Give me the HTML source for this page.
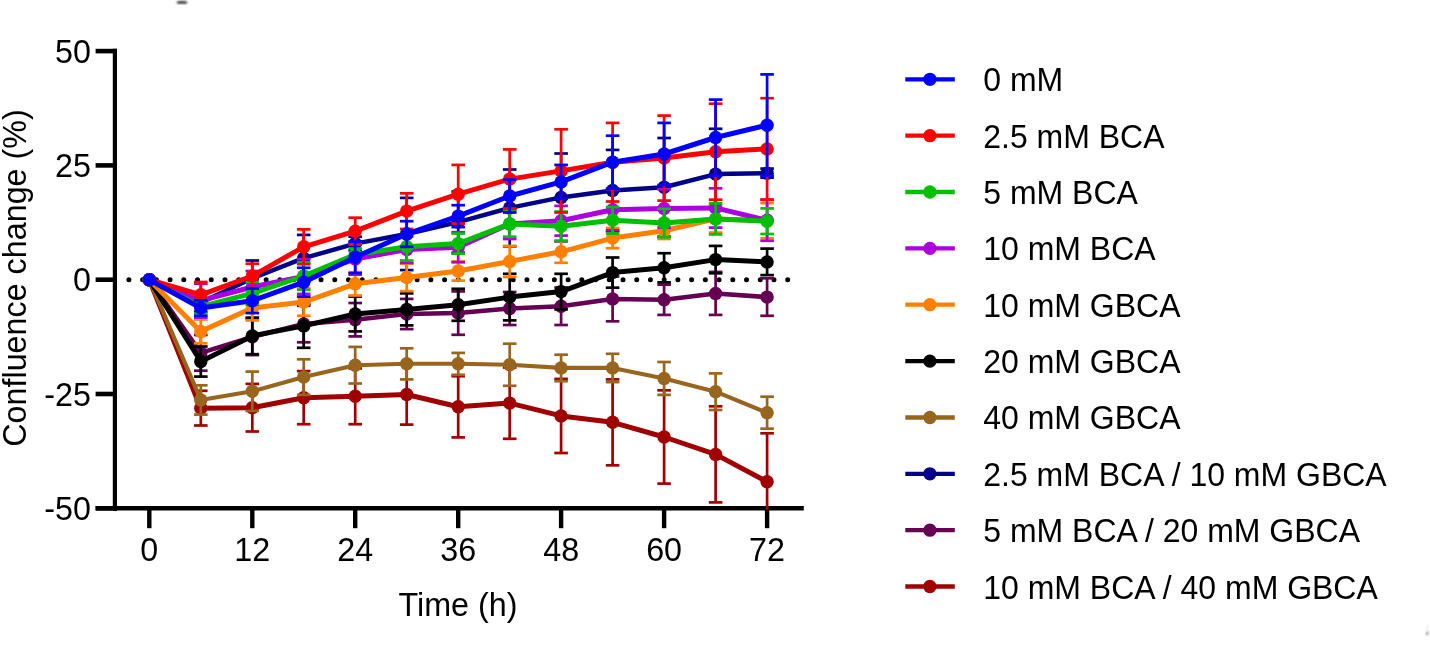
<!DOCTYPE html>
<html><head><meta charset="utf-8"><style>
html,body{margin:0;padding:0;background:#fff;}
body{width:1430px;height:666px;overflow:hidden;position:relative;}
svg{position:absolute;left:0;top:0;will-change:transform;}
text{font-family:"Liberation Sans",sans-serif;font-size:32.3px;fill:#000;}
.lg{font-size:32px;}
</style></head><body>
<svg width="1430" height="666" viewBox="0 0 1430 666">
<defs><filter id="bl" x="-50%" y="-50%" width="200%" height="200%"><feGaussianBlur stdDeviation="1.0"/></filter></defs>
<ellipse cx="182" cy="2.4" rx="5.4" ry="1.2" fill="#000" filter="url(#bl)"/>
<ellipse cx="1427.2" cy="628.5" rx="0.6" ry="4.5" fill="#e4e4e4" filter="url(#bl)"/><ellipse cx="1427.2" cy="633.4" rx="1.1" ry="1.7" fill="#777" filter="url(#bl)"/>
<line x1="114.9" y1="48.8" x2="114.9" y2="510.8" stroke="#000" stroke-width="4.2"/>
<line x1="95.6" y1="51.1" x2="117" y2="51.1" stroke="#000" stroke-width="4.6"/>
<line x1="95.6" y1="165.4" x2="117" y2="165.4" stroke="#000" stroke-width="4.6"/>
<line x1="95.6" y1="279.7" x2="117" y2="279.7" stroke="#000" stroke-width="4.6"/>
<line x1="95.6" y1="394.0" x2="117" y2="394.0" stroke="#000" stroke-width="4.6"/>
<line x1="95.6" y1="508.3" x2="117" y2="508.3" stroke="#000" stroke-width="4.6"/>
<line x1="95.6" y1="508.3" x2="803.8" y2="508.3" stroke="#000" stroke-width="4.6"/>
<line x1="149.3" y1="506.5" x2="149.3" y2="528.2" stroke="#000" stroke-width="4.4"/>
<line x1="252.3" y1="506.5" x2="252.3" y2="528.2" stroke="#000" stroke-width="4.4"/>
<line x1="355.2" y1="506.5" x2="355.2" y2="528.2" stroke="#000" stroke-width="4.4"/>
<line x1="458.2" y1="506.5" x2="458.2" y2="528.2" stroke="#000" stroke-width="4.4"/>
<line x1="561.1" y1="506.5" x2="561.1" y2="528.2" stroke="#000" stroke-width="4.4"/>
<line x1="664.1" y1="506.5" x2="664.1" y2="528.2" stroke="#000" stroke-width="4.4"/>
<line x1="767.1" y1="506.5" x2="767.1" y2="528.2" stroke="#000" stroke-width="4.4"/>
<line x1="128.9" y1="279.7" x2="788.5" y2="279.7" stroke="#000" stroke-width="5" stroke-linecap="round" stroke-dasharray="0 13.725"/>
<g stroke="#A00000" stroke-width="2.7" fill="none"><line x1="200.8" y1="390.8" x2="200.8" y2="425.5"/><line x1="194.0" y1="390.8" x2="207.6" y2="390.8"/><line x1="194.0" y1="425.5" x2="207.6" y2="425.5"/><line x1="252.3" y1="383.9" x2="252.3" y2="431.5"/><line x1="245.5" y1="383.9" x2="259.1" y2="383.9"/><line x1="245.5" y1="431.5" x2="259.1" y2="431.5"/><line x1="303.7" y1="371.1" x2="303.7" y2="424.2"/><line x1="296.9" y1="371.1" x2="310.5" y2="371.1"/><line x1="296.9" y1="424.2" x2="310.5" y2="424.2"/><line x1="355.2" y1="368.4" x2="355.2" y2="424.2"/><line x1="348.4" y1="368.4" x2="362.0" y2="368.4"/><line x1="348.4" y1="424.2" x2="362.0" y2="424.2"/><line x1="406.7" y1="364.3" x2="406.7" y2="424.6"/><line x1="399.9" y1="364.3" x2="413.5" y2="364.3"/><line x1="399.9" y1="424.6" x2="413.5" y2="424.6"/><line x1="458.2" y1="376.2" x2="458.2" y2="437.4"/><line x1="451.4" y1="376.2" x2="465.0" y2="376.2"/><line x1="451.4" y1="437.4" x2="465.0" y2="437.4"/><line x1="509.7" y1="367.5" x2="509.7" y2="438.8"/><line x1="502.9" y1="367.5" x2="516.5" y2="367.5"/><line x1="502.9" y1="438.8" x2="516.5" y2="438.8"/><line x1="561.1" y1="378.9" x2="561.1" y2="453.0"/><line x1="554.3" y1="378.9" x2="567.9" y2="378.9"/><line x1="554.3" y1="453.0" x2="567.9" y2="453.0"/><line x1="612.6" y1="379.4" x2="612.6" y2="465.3"/><line x1="605.8" y1="379.4" x2="619.4" y2="379.4"/><line x1="605.8" y1="465.3" x2="619.4" y2="465.3"/><line x1="664.1" y1="390.3" x2="664.1" y2="483.6"/><line x1="657.3" y1="390.3" x2="670.9" y2="390.3"/><line x1="657.3" y1="483.6" x2="670.9" y2="483.6"/><line x1="715.6" y1="406.3" x2="715.6" y2="502.4"/><line x1="708.8" y1="406.3" x2="722.4" y2="406.3"/><line x1="708.8" y1="502.4" x2="722.4" y2="502.4"/><line x1="767.1" y1="433.3" x2="767.1" y2="509.7"/><line x1="760.3" y1="433.3" x2="773.9" y2="433.3"/></g>
<polyline points="149.3,279.7 200.8,408.2 252.3,407.7 303.7,397.7 355.2,396.3 406.7,394.5 458.2,406.8 509.7,403.1 561.1,415.9 612.6,422.3 664.1,437.0 715.6,454.4 767.1,481.8" fill="none" stroke="#A00000" stroke-width="5" stroke-linejoin="round"/>
<g fill="#A00000"><circle cx="149.3" cy="279.7" r="6.7"/><circle cx="200.8" cy="408.2" r="6.7"/><circle cx="252.3" cy="407.7" r="6.7"/><circle cx="303.7" cy="397.7" r="6.7"/><circle cx="355.2" cy="396.3" r="6.7"/><circle cx="406.7" cy="394.5" r="6.7"/><circle cx="458.2" cy="406.8" r="6.7"/><circle cx="509.7" cy="403.1" r="6.7"/><circle cx="561.1" cy="415.9" r="6.7"/><circle cx="612.6" cy="422.3" r="6.7"/><circle cx="664.1" cy="437.0" r="6.7"/><circle cx="715.6" cy="454.4" r="6.7"/><circle cx="767.1" cy="481.8" r="6.7"/></g>
<g stroke="#650052" stroke-width="2.7" fill="none"><line x1="200.8" y1="335.0" x2="200.8" y2="370.7"/><line x1="194.0" y1="335.0" x2="207.6" y2="335.0"/><line x1="194.0" y1="370.7" x2="207.6" y2="370.7"/><line x1="252.3" y1="318.6" x2="252.3" y2="355.1"/><line x1="245.5" y1="318.6" x2="259.1" y2="318.6"/><line x1="245.5" y1="355.1" x2="259.1" y2="355.1"/><line x1="303.7" y1="305.8" x2="303.7" y2="342.3"/><line x1="296.9" y1="305.8" x2="310.5" y2="305.8"/><line x1="296.9" y1="342.3" x2="310.5" y2="342.3"/><line x1="355.2" y1="303.0" x2="355.2" y2="336.4"/><line x1="348.4" y1="303.0" x2="362.0" y2="303.0"/><line x1="348.4" y1="336.4" x2="362.0" y2="336.4"/><line x1="406.7" y1="298.9" x2="406.7" y2="329.1"/><line x1="399.9" y1="298.9" x2="413.5" y2="298.9"/><line x1="399.9" y1="329.1" x2="413.5" y2="329.1"/><line x1="458.2" y1="291.4" x2="458.2" y2="334.8"/><line x1="451.4" y1="291.4" x2="465.0" y2="291.4"/><line x1="451.4" y1="334.8" x2="465.0" y2="334.8"/><line x1="509.7" y1="292.0" x2="509.7" y2="325.0"/><line x1="502.9" y1="292.0" x2="516.5" y2="292.0"/><line x1="502.9" y1="325.0" x2="516.5" y2="325.0"/><line x1="561.1" y1="287.5" x2="561.1" y2="325.0"/><line x1="554.3" y1="287.5" x2="567.9" y2="287.5"/><line x1="554.3" y1="325.0" x2="567.9" y2="325.0"/><line x1="612.6" y1="276.5" x2="612.6" y2="321.3"/><line x1="605.8" y1="276.5" x2="619.4" y2="276.5"/><line x1="605.8" y1="321.3" x2="619.4" y2="321.3"/><line x1="664.1" y1="284.7" x2="664.1" y2="314.9"/><line x1="657.3" y1="284.7" x2="670.9" y2="284.7"/><line x1="657.3" y1="314.9" x2="670.9" y2="314.9"/><line x1="715.6" y1="271.9" x2="715.6" y2="314.9"/><line x1="708.8" y1="271.9" x2="722.4" y2="271.9"/><line x1="708.8" y1="314.9" x2="722.4" y2="314.9"/><line x1="767.1" y1="278.3" x2="767.1" y2="315.8"/><line x1="760.3" y1="278.3" x2="773.9" y2="278.3"/><line x1="760.3" y1="315.8" x2="773.9" y2="315.8"/></g>
<polyline points="149.3,279.7 200.8,352.9 252.3,336.8 303.7,324.0 355.2,319.7 406.7,314.0 458.2,313.1 509.7,308.5 561.1,306.2 612.6,298.9 664.1,299.8 715.6,293.4 767.1,297.1" fill="none" stroke="#650052" stroke-width="4.5" stroke-linejoin="round"/>
<g fill="#650052"><circle cx="149.3" cy="279.7" r="6.7"/><circle cx="200.8" cy="352.9" r="6.7"/><circle cx="252.3" cy="336.8" r="6.7"/><circle cx="303.7" cy="324.0" r="6.7"/><circle cx="355.2" cy="319.7" r="6.7"/><circle cx="406.7" cy="314.0" r="6.7"/><circle cx="458.2" cy="313.1" r="6.7"/><circle cx="509.7" cy="308.5" r="6.7"/><circle cx="561.1" cy="306.2" r="6.7"/><circle cx="612.6" cy="298.9" r="6.7"/><circle cx="664.1" cy="299.8" r="6.7"/><circle cx="715.6" cy="293.4" r="6.7"/><circle cx="767.1" cy="297.1" r="6.7"/></g>
<g stroke="#000088" stroke-width="2.7" fill="none"><line x1="200.8" y1="293.4" x2="200.8" y2="311.7"/><line x1="194.0" y1="293.4" x2="207.6" y2="293.4"/><line x1="194.0" y1="311.7" x2="207.6" y2="311.7"/><line x1="252.3" y1="260.5" x2="252.3" y2="296.2"/><line x1="245.5" y1="260.5" x2="259.1" y2="260.5"/><line x1="245.5" y1="296.2" x2="259.1" y2="296.2"/><line x1="303.7" y1="234.9" x2="303.7" y2="281.5"/><line x1="296.9" y1="234.9" x2="310.5" y2="234.9"/><line x1="296.9" y1="281.5" x2="310.5" y2="281.5"/><line x1="355.2" y1="236.7" x2="355.2" y2="250.4"/><line x1="348.4" y1="236.7" x2="362.0" y2="236.7"/><line x1="348.4" y1="250.4" x2="362.0" y2="250.4"/><line x1="406.7" y1="197.9" x2="406.7" y2="270.1"/><line x1="399.9" y1="197.9" x2="413.5" y2="197.9"/><line x1="399.9" y1="270.1" x2="413.5" y2="270.1"/><line x1="458.2" y1="191.5" x2="458.2" y2="252.7"/><line x1="451.4" y1="191.5" x2="465.0" y2="191.5"/><line x1="451.4" y1="252.7" x2="465.0" y2="252.7"/><line x1="509.7" y1="169.5" x2="509.7" y2="246.3"/><line x1="502.9" y1="169.5" x2="516.5" y2="169.5"/><line x1="502.9" y1="246.3" x2="516.5" y2="246.3"/><line x1="561.1" y1="153.5" x2="561.1" y2="241.3"/><line x1="554.3" y1="153.5" x2="567.9" y2="153.5"/><line x1="554.3" y1="241.3" x2="567.9" y2="241.3"/><line x1="612.6" y1="149.9" x2="612.6" y2="231.2"/><line x1="605.8" y1="149.9" x2="619.4" y2="149.9"/><line x1="605.8" y1="231.2" x2="619.4" y2="231.2"/><line x1="664.1" y1="138.0" x2="664.1" y2="236.7"/><line x1="657.3" y1="138.0" x2="670.9" y2="138.0"/><line x1="657.3" y1="236.7" x2="670.9" y2="236.7"/><line x1="715.6" y1="128.8" x2="715.6" y2="219.3"/><line x1="708.8" y1="128.8" x2="722.4" y2="128.8"/><line x1="708.8" y1="219.3" x2="722.4" y2="219.3"/><line x1="767.1" y1="168.6" x2="767.1" y2="177.7"/><line x1="760.3" y1="168.6" x2="773.9" y2="168.6"/><line x1="760.3" y1="177.7" x2="773.9" y2="177.7"/></g>
<polyline points="149.3,279.7 200.8,302.6 252.3,278.3 303.7,258.2 355.2,243.6 406.7,234.0 458.2,222.1 509.7,207.9 561.1,197.4 612.6,190.5 664.1,187.3 715.6,174.1 767.1,173.2" fill="none" stroke="#000088" stroke-width="4.5" stroke-linejoin="round"/>
<g fill="#000088"><circle cx="149.3" cy="279.7" r="6.7"/><circle cx="200.8" cy="302.6" r="6.7"/><circle cx="252.3" cy="278.3" r="6.7"/><circle cx="303.7" cy="258.2" r="6.7"/><circle cx="355.2" cy="243.6" r="6.7"/><circle cx="406.7" cy="234.0" r="6.7"/><circle cx="458.2" cy="222.1" r="6.7"/><circle cx="509.7" cy="207.9" r="6.7"/><circle cx="561.1" cy="197.4" r="6.7"/><circle cx="612.6" cy="190.5" r="6.7"/><circle cx="664.1" cy="187.3" r="6.7"/><circle cx="715.6" cy="174.1" r="6.7"/><circle cx="767.1" cy="173.2" r="6.7"/></g>
<g stroke="#98651F" stroke-width="2.7" fill="none"><line x1="200.8" y1="385.3" x2="200.8" y2="414.6"/><line x1="194.0" y1="385.3" x2="207.6" y2="385.3"/><line x1="194.0" y1="414.6" x2="207.6" y2="414.6"/><line x1="252.3" y1="371.6" x2="252.3" y2="410.9"/><line x1="245.5" y1="371.6" x2="259.1" y2="371.6"/><line x1="245.5" y1="410.9" x2="259.1" y2="410.9"/><line x1="303.7" y1="359.3" x2="303.7" y2="394.9"/><line x1="296.9" y1="359.3" x2="310.5" y2="359.3"/><line x1="296.9" y1="394.9" x2="310.5" y2="394.9"/><line x1="355.2" y1="346.9" x2="355.2" y2="383.5"/><line x1="348.4" y1="346.9" x2="362.0" y2="346.9"/><line x1="348.4" y1="383.5" x2="362.0" y2="383.5"/><line x1="406.7" y1="348.3" x2="406.7" y2="379.4"/><line x1="399.9" y1="348.3" x2="413.5" y2="348.3"/><line x1="399.9" y1="379.4" x2="413.5" y2="379.4"/><line x1="458.2" y1="352.9" x2="458.2" y2="374.8"/><line x1="451.4" y1="352.9" x2="465.0" y2="352.9"/><line x1="451.4" y1="374.8" x2="465.0" y2="374.8"/><line x1="509.7" y1="343.7" x2="509.7" y2="385.8"/><line x1="502.9" y1="343.7" x2="516.5" y2="343.7"/><line x1="502.9" y1="385.8" x2="516.5" y2="385.8"/><line x1="561.1" y1="354.7" x2="561.1" y2="381.2"/><line x1="554.3" y1="354.7" x2="567.9" y2="354.7"/><line x1="554.3" y1="381.2" x2="567.9" y2="381.2"/><line x1="612.6" y1="353.8" x2="612.6" y2="382.1"/><line x1="605.8" y1="353.8" x2="619.4" y2="353.8"/><line x1="605.8" y1="382.1" x2="619.4" y2="382.1"/><line x1="664.1" y1="362.0" x2="664.1" y2="394.9"/><line x1="657.3" y1="362.0" x2="670.9" y2="362.0"/><line x1="657.3" y1="394.9" x2="670.9" y2="394.9"/><line x1="715.6" y1="373.4" x2="715.6" y2="410.0"/><line x1="708.8" y1="373.4" x2="722.4" y2="373.4"/><line x1="708.8" y1="410.0" x2="722.4" y2="410.0"/><line x1="767.1" y1="396.7" x2="767.1" y2="428.7"/><line x1="760.3" y1="396.7" x2="773.9" y2="396.7"/><line x1="760.3" y1="428.7" x2="773.9" y2="428.7"/></g>
<polyline points="149.3,279.7 200.8,399.9 252.3,391.3 303.7,377.1 355.2,365.2 406.7,363.8 458.2,363.8 509.7,364.7 561.1,367.9 612.6,367.9 664.1,378.5 715.6,391.7 767.1,412.7" fill="none" stroke="#98651F" stroke-width="4.1" stroke-linejoin="round"/>
<g fill="#98651F"><circle cx="149.3" cy="279.7" r="6.7"/><circle cx="200.8" cy="399.9" r="6.7"/><circle cx="252.3" cy="391.3" r="6.7"/><circle cx="303.7" cy="377.1" r="6.7"/><circle cx="355.2" cy="365.2" r="6.7"/><circle cx="406.7" cy="363.8" r="6.7"/><circle cx="458.2" cy="363.8" r="6.7"/><circle cx="509.7" cy="364.7" r="6.7"/><circle cx="561.1" cy="367.9" r="6.7"/><circle cx="612.6" cy="367.9" r="6.7"/><circle cx="664.1" cy="378.5" r="6.7"/><circle cx="715.6" cy="391.7" r="6.7"/><circle cx="767.1" cy="412.7" r="6.7"/></g>
<g stroke="#000000" stroke-width="2.7" fill="none"><line x1="200.8" y1="346.5" x2="200.8" y2="376.6"/><line x1="194.0" y1="346.5" x2="207.6" y2="346.5"/><line x1="194.0" y1="376.6" x2="207.6" y2="376.6"/><line x1="252.3" y1="317.6" x2="252.3" y2="354.2"/><line x1="245.5" y1="317.6" x2="259.1" y2="317.6"/><line x1="245.5" y1="354.2" x2="259.1" y2="354.2"/><line x1="303.7" y1="303.9" x2="303.7" y2="347.8"/><line x1="296.9" y1="303.9" x2="310.5" y2="303.9"/><line x1="296.9" y1="347.8" x2="310.5" y2="347.8"/><line x1="355.2" y1="296.6" x2="355.2" y2="331.4"/><line x1="348.4" y1="296.6" x2="362.0" y2="296.6"/><line x1="348.4" y1="331.4" x2="362.0" y2="331.4"/><line x1="406.7" y1="293.4" x2="406.7" y2="325.4"/><line x1="399.9" y1="293.4" x2="413.5" y2="293.4"/><line x1="399.9" y1="325.4" x2="413.5" y2="325.4"/><line x1="458.2" y1="288.8" x2="458.2" y2="320.8"/><line x1="451.4" y1="288.8" x2="465.0" y2="288.8"/><line x1="451.4" y1="320.8" x2="465.0" y2="320.8"/><line x1="509.7" y1="273.8" x2="509.7" y2="320.4"/><line x1="502.9" y1="273.8" x2="516.5" y2="273.8"/><line x1="502.9" y1="320.4" x2="516.5" y2="320.4"/><line x1="561.1" y1="273.8" x2="561.1" y2="309.4"/><line x1="554.3" y1="273.8" x2="567.9" y2="273.8"/><line x1="554.3" y1="309.4" x2="567.9" y2="309.4"/><line x1="612.6" y1="257.5" x2="612.6" y2="287.7"/><line x1="605.8" y1="257.5" x2="619.4" y2="257.5"/><line x1="605.8" y1="287.7" x2="619.4" y2="287.7"/><line x1="664.1" y1="253.2" x2="664.1" y2="282.4"/><line x1="657.3" y1="253.2" x2="670.9" y2="253.2"/><line x1="657.3" y1="282.4" x2="670.9" y2="282.4"/><line x1="715.6" y1="245.9" x2="715.6" y2="273.3"/><line x1="708.8" y1="245.9" x2="722.4" y2="245.9"/><line x1="708.8" y1="273.3" x2="722.4" y2="273.3"/><line x1="767.1" y1="248.6" x2="767.1" y2="275.1"/><line x1="760.3" y1="248.6" x2="773.9" y2="248.6"/><line x1="760.3" y1="275.1" x2="773.9" y2="275.1"/></g>
<polyline points="149.3,279.7 200.8,361.5 252.3,335.9 303.7,325.9 355.2,314.0 406.7,309.4 458.2,304.8 509.7,297.1 561.1,291.6 612.6,272.6 664.1,267.8 715.6,259.6 767.1,261.9" fill="none" stroke="#000000" stroke-width="5" stroke-linejoin="round"/>
<g fill="#000000"><circle cx="149.3" cy="279.7" r="6.7"/><circle cx="200.8" cy="361.5" r="6.7"/><circle cx="252.3" cy="335.9" r="6.7"/><circle cx="303.7" cy="325.9" r="6.7"/><circle cx="355.2" cy="314.0" r="6.7"/><circle cx="406.7" cy="309.4" r="6.7"/><circle cx="458.2" cy="304.8" r="6.7"/><circle cx="509.7" cy="297.1" r="6.7"/><circle cx="561.1" cy="291.6" r="6.7"/><circle cx="612.6" cy="272.6" r="6.7"/><circle cx="664.1" cy="267.8" r="6.7"/><circle cx="715.6" cy="259.6" r="6.7"/><circle cx="767.1" cy="261.9" r="6.7"/></g>
<g stroke="#FF8000" stroke-width="2.7" fill="none"><line x1="200.8" y1="319.5" x2="200.8" y2="343.3"/><line x1="194.0" y1="319.5" x2="207.6" y2="319.5"/><line x1="194.0" y1="343.3" x2="207.6" y2="343.3"/><line x1="252.3" y1="295.7" x2="252.3" y2="320.4"/><line x1="245.5" y1="295.7" x2="259.1" y2="295.7"/><line x1="245.5" y1="320.4" x2="259.1" y2="320.4"/><line x1="303.7" y1="288.4" x2="303.7" y2="315.8"/><line x1="296.9" y1="288.4" x2="310.5" y2="288.4"/><line x1="296.9" y1="315.8" x2="310.5" y2="315.8"/><line x1="355.2" y1="272.2" x2="355.2" y2="295.5"/><line x1="348.4" y1="272.2" x2="362.0" y2="272.2"/><line x1="348.4" y1="295.5" x2="362.0" y2="295.5"/><line x1="406.7" y1="263.7" x2="406.7" y2="291.1"/><line x1="399.9" y1="263.7" x2="413.5" y2="263.7"/><line x1="399.9" y1="291.1" x2="413.5" y2="291.1"/><line x1="458.2" y1="261.4" x2="458.2" y2="280.6"/><line x1="451.4" y1="261.4" x2="465.0" y2="261.4"/><line x1="451.4" y1="280.6" x2="465.0" y2="280.6"/><line x1="509.7" y1="245.9" x2="509.7" y2="277.0"/><line x1="502.9" y1="245.9" x2="516.5" y2="245.9"/><line x1="502.9" y1="277.0" x2="516.5" y2="277.0"/><line x1="561.1" y1="240.8" x2="561.1" y2="262.8"/><line x1="554.3" y1="240.8" x2="567.9" y2="240.8"/><line x1="554.3" y1="262.8" x2="567.9" y2="262.8"/><line x1="612.6" y1="228.0" x2="612.6" y2="248.2"/><line x1="605.8" y1="228.0" x2="619.4" y2="228.0"/><line x1="605.8" y1="248.2" x2="619.4" y2="248.2"/><line x1="664.1" y1="222.5" x2="664.1" y2="239.0"/><line x1="657.3" y1="222.5" x2="670.9" y2="222.5"/><line x1="657.3" y1="239.0" x2="670.9" y2="239.0"/><line x1="715.6" y1="205.2" x2="715.6" y2="232.6"/><line x1="708.8" y1="205.2" x2="722.4" y2="205.2"/><line x1="708.8" y1="232.6" x2="722.4" y2="232.6"/><line x1="767.1" y1="203.1" x2="767.1" y2="238.3"/><line x1="760.3" y1="203.1" x2="773.9" y2="203.1"/><line x1="760.3" y1="238.3" x2="773.9" y2="238.3"/></g>
<polyline points="149.3,279.7 200.8,331.4 252.3,308.0 303.7,302.1 355.2,283.8 406.7,277.4 458.2,271.0 509.7,261.4 561.1,251.8 612.6,238.1 664.1,230.8 715.6,218.9 767.1,220.7" fill="none" stroke="#FF8000" stroke-width="5" stroke-linejoin="round"/>
<g fill="#FF8000"><circle cx="149.3" cy="279.7" r="6.7"/><circle cx="200.8" cy="331.4" r="6.7"/><circle cx="252.3" cy="308.0" r="6.7"/><circle cx="303.7" cy="302.1" r="6.7"/><circle cx="355.2" cy="283.8" r="6.7"/><circle cx="406.7" cy="277.4" r="6.7"/><circle cx="458.2" cy="271.0" r="6.7"/><circle cx="509.7" cy="261.4" r="6.7"/><circle cx="561.1" cy="251.8" r="6.7"/><circle cx="612.6" cy="238.1" r="6.7"/><circle cx="664.1" cy="230.8" r="6.7"/><circle cx="715.6" cy="218.9" r="6.7"/><circle cx="767.1" cy="220.7" r="6.7"/></g>
<g stroke="#AC00E0" stroke-width="2.7" fill="none"><line x1="200.8" y1="283.8" x2="200.8" y2="317.6"/><line x1="194.0" y1="283.8" x2="207.6" y2="283.8"/><line x1="194.0" y1="317.6" x2="207.6" y2="317.6"/><line x1="252.3" y1="271.0" x2="252.3" y2="303.0"/><line x1="245.5" y1="271.0" x2="259.1" y2="271.0"/><line x1="245.5" y1="303.0" x2="259.1" y2="303.0"/><line x1="303.7" y1="259.1" x2="303.7" y2="293.9"/><line x1="296.9" y1="259.1" x2="310.5" y2="259.1"/><line x1="296.9" y1="293.9" x2="310.5" y2="293.9"/><line x1="355.2" y1="243.6" x2="355.2" y2="274.7"/><line x1="348.4" y1="243.6" x2="362.0" y2="243.6"/><line x1="348.4" y1="274.7" x2="362.0" y2="274.7"/><line x1="406.7" y1="236.3" x2="406.7" y2="262.8"/><line x1="399.9" y1="236.3" x2="413.5" y2="236.3"/><line x1="399.9" y1="262.8" x2="413.5" y2="262.8"/><line x1="458.2" y1="232.2" x2="458.2" y2="262.3"/><line x1="451.4" y1="232.2" x2="465.0" y2="232.2"/><line x1="451.4" y1="262.3" x2="465.0" y2="262.3"/><line x1="509.7" y1="208.8" x2="509.7" y2="239.0"/><line x1="502.9" y1="208.8" x2="516.5" y2="208.8"/><line x1="502.9" y1="239.0" x2="516.5" y2="239.0"/><line x1="561.1" y1="205.9" x2="561.1" y2="235.6"/><line x1="554.3" y1="205.9" x2="567.9" y2="205.9"/><line x1="554.3" y1="235.6" x2="567.9" y2="235.6"/><line x1="612.6" y1="189.2" x2="612.6" y2="230.3"/><line x1="605.8" y1="189.2" x2="619.4" y2="189.2"/><line x1="605.8" y1="230.3" x2="619.4" y2="230.3"/><line x1="664.1" y1="189.2" x2="664.1" y2="227.6"/><line x1="657.3" y1="189.2" x2="670.9" y2="189.2"/><line x1="657.3" y1="227.6" x2="670.9" y2="227.6"/><line x1="715.6" y1="188.3" x2="715.6" y2="227.6"/><line x1="708.8" y1="188.3" x2="722.4" y2="188.3"/><line x1="708.8" y1="227.6" x2="722.4" y2="227.6"/><line x1="767.1" y1="199.7" x2="767.1" y2="240.8"/><line x1="760.3" y1="199.7" x2="773.9" y2="199.7"/><line x1="760.3" y1="240.8" x2="773.9" y2="240.8"/></g>
<polyline points="149.3,279.7 200.8,300.7 252.3,287.0 303.7,276.5 355.2,259.1 406.7,249.5 458.2,247.2 509.7,223.9 561.1,220.7 612.6,209.7 664.1,208.4 715.6,207.9 767.1,220.3" fill="none" stroke="#AC00E0" stroke-width="5" stroke-linejoin="round"/>
<g fill="#AC00E0"><circle cx="149.3" cy="279.7" r="6.7"/><circle cx="200.8" cy="300.7" r="6.7"/><circle cx="252.3" cy="287.0" r="6.7"/><circle cx="303.7" cy="276.5" r="6.7"/><circle cx="355.2" cy="259.1" r="6.7"/><circle cx="406.7" cy="249.5" r="6.7"/><circle cx="458.2" cy="247.2" r="6.7"/><circle cx="509.7" cy="223.9" r="6.7"/><circle cx="561.1" cy="220.7" r="6.7"/><circle cx="612.6" cy="209.7" r="6.7"/><circle cx="664.1" cy="208.4" r="6.7"/><circle cx="715.6" cy="207.9" r="6.7"/><circle cx="767.1" cy="220.3" r="6.7"/></g>
<g stroke="#00BF00" stroke-width="2.7" fill="none"><line x1="200.8" y1="299.8" x2="200.8" y2="313.5"/><line x1="194.0" y1="299.8" x2="207.6" y2="299.8"/><line x1="194.0" y1="313.5" x2="207.6" y2="313.5"/><line x1="252.3" y1="282.0" x2="252.3" y2="304.8"/><line x1="245.5" y1="282.0" x2="259.1" y2="282.0"/><line x1="245.5" y1="304.8" x2="259.1" y2="304.8"/><line x1="303.7" y1="262.3" x2="303.7" y2="289.8"/><line x1="296.9" y1="262.3" x2="310.5" y2="262.3"/><line x1="296.9" y1="289.8" x2="310.5" y2="289.8"/><line x1="355.2" y1="248.6" x2="355.2" y2="260.5"/><line x1="348.4" y1="248.6" x2="362.0" y2="248.6"/><line x1="348.4" y1="260.5" x2="362.0" y2="260.5"/><line x1="406.7" y1="233.1" x2="406.7" y2="260.5"/><line x1="399.9" y1="233.1" x2="413.5" y2="233.1"/><line x1="399.9" y1="260.5" x2="413.5" y2="260.5"/><line x1="458.2" y1="233.5" x2="458.2" y2="253.6"/><line x1="451.4" y1="233.5" x2="465.0" y2="233.5"/><line x1="451.4" y1="253.6" x2="465.0" y2="253.6"/><line x1="509.7" y1="211.1" x2="509.7" y2="236.7"/><line x1="502.9" y1="211.1" x2="516.5" y2="211.1"/><line x1="502.9" y1="236.7" x2="516.5" y2="236.7"/><line x1="561.1" y1="211.6" x2="561.1" y2="240.8"/><line x1="554.3" y1="211.6" x2="567.9" y2="211.6"/><line x1="554.3" y1="240.8" x2="567.9" y2="240.8"/><line x1="612.6" y1="207.0" x2="612.6" y2="233.5"/><line x1="605.8" y1="207.0" x2="619.4" y2="207.0"/><line x1="605.8" y1="233.5" x2="619.4" y2="233.5"/><line x1="664.1" y1="208.8" x2="664.1" y2="237.2"/><line x1="657.3" y1="208.8" x2="670.9" y2="208.8"/><line x1="657.3" y1="237.2" x2="670.9" y2="237.2"/><line x1="715.6" y1="203.3" x2="715.6" y2="234.4"/><line x1="708.8" y1="203.3" x2="722.4" y2="203.3"/><line x1="708.8" y1="234.4" x2="722.4" y2="234.4"/><line x1="767.1" y1="208.4" x2="767.1" y2="234.0"/><line x1="760.3" y1="208.4" x2="773.9" y2="208.4"/><line x1="760.3" y1="234.0" x2="773.9" y2="234.0"/></g>
<polyline points="149.3,279.7 200.8,306.7 252.3,293.4 303.7,276.0 355.2,254.6 406.7,246.8 458.2,243.6 509.7,223.9 561.1,226.2 612.6,220.3 664.1,223.0 715.6,218.9 767.1,221.2" fill="none" stroke="#00BF00" stroke-width="5" stroke-linejoin="round"/>
<g fill="#00BF00"><circle cx="149.3" cy="279.7" r="6.7"/><circle cx="200.8" cy="306.7" r="6.7"/><circle cx="252.3" cy="293.4" r="6.7"/><circle cx="303.7" cy="276.0" r="6.7"/><circle cx="355.2" cy="254.6" r="6.7"/><circle cx="406.7" cy="246.8" r="6.7"/><circle cx="458.2" cy="243.6" r="6.7"/><circle cx="509.7" cy="223.9" r="6.7"/><circle cx="561.1" cy="226.2" r="6.7"/><circle cx="612.6" cy="220.3" r="6.7"/><circle cx="664.1" cy="223.0" r="6.7"/><circle cx="715.6" cy="218.9" r="6.7"/><circle cx="767.1" cy="221.2" r="6.7"/></g>
<g stroke="#FF0000" stroke-width="2.7" fill="none"><line x1="200.8" y1="282.0" x2="200.8" y2="307.6"/><line x1="194.0" y1="282.0" x2="207.6" y2="282.0"/><line x1="194.0" y1="307.6" x2="207.6" y2="307.6"/><line x1="252.3" y1="263.7" x2="252.3" y2="288.4"/><line x1="245.5" y1="263.7" x2="259.1" y2="263.7"/><line x1="245.5" y1="288.4" x2="259.1" y2="288.4"/><line x1="303.7" y1="229.4" x2="303.7" y2="264.2"/><line x1="296.9" y1="229.4" x2="310.5" y2="229.4"/><line x1="296.9" y1="264.2" x2="310.5" y2="264.2"/><line x1="355.2" y1="217.7" x2="355.2" y2="244.7"/><line x1="348.4" y1="217.7" x2="362.0" y2="217.7"/><line x1="348.4" y1="244.7" x2="362.0" y2="244.7"/><line x1="406.7" y1="193.3" x2="406.7" y2="229.0"/><line x1="399.9" y1="193.3" x2="413.5" y2="193.3"/><line x1="399.9" y1="229.0" x2="413.5" y2="229.0"/><line x1="458.2" y1="164.9" x2="458.2" y2="223.5"/><line x1="451.4" y1="164.9" x2="465.0" y2="164.9"/><line x1="451.4" y1="223.5" x2="465.0" y2="223.5"/><line x1="509.7" y1="149.4" x2="509.7" y2="208.8"/><line x1="502.9" y1="149.4" x2="516.5" y2="149.4"/><line x1="502.9" y1="208.8" x2="516.5" y2="208.8"/><line x1="561.1" y1="129.3" x2="561.1" y2="212.5"/><line x1="554.3" y1="129.3" x2="567.9" y2="129.3"/><line x1="554.3" y1="212.5" x2="567.9" y2="212.5"/><line x1="612.6" y1="122.9" x2="612.6" y2="201.5"/><line x1="605.8" y1="122.9" x2="619.4" y2="122.9"/><line x1="605.8" y1="201.5" x2="619.4" y2="201.5"/><line x1="664.1" y1="115.6" x2="664.1" y2="200.6"/><line x1="657.3" y1="115.6" x2="670.9" y2="115.6"/><line x1="657.3" y1="200.6" x2="670.9" y2="200.6"/><line x1="715.6" y1="103.7" x2="715.6" y2="199.7"/><line x1="708.8" y1="103.7" x2="722.4" y2="103.7"/><line x1="708.8" y1="199.7" x2="722.4" y2="199.7"/><line x1="767.1" y1="98.2" x2="767.1" y2="199.7"/><line x1="760.3" y1="98.2" x2="773.9" y2="98.2"/><line x1="760.3" y1="199.7" x2="773.9" y2="199.7"/></g>
<polyline points="149.3,279.7 200.8,294.8 252.3,276.0 303.7,246.8 355.2,231.2 406.7,211.1 458.2,194.2 509.7,179.1 561.1,170.9 612.6,162.2 664.1,158.1 715.6,151.7 767.1,148.9" fill="none" stroke="#FF0000" stroke-width="5.0" stroke-linejoin="round"/>
<g fill="#FF0000"><circle cx="149.3" cy="279.7" r="6.7"/><circle cx="200.8" cy="294.8" r="6.7"/><circle cx="252.3" cy="276.0" r="6.7"/><circle cx="303.7" cy="246.8" r="6.7"/><circle cx="355.2" cy="231.2" r="6.7"/><circle cx="406.7" cy="211.1" r="6.7"/><circle cx="458.2" cy="194.2" r="6.7"/><circle cx="509.7" cy="179.1" r="6.7"/><circle cx="561.1" cy="170.9" r="6.7"/><circle cx="612.6" cy="162.2" r="6.7"/><circle cx="664.1" cy="158.1" r="6.7"/><circle cx="715.6" cy="151.7" r="6.7"/><circle cx="767.1" cy="148.9" r="6.7"/></g>
<g stroke="#0000FF" stroke-width="2.7" fill="none"><line x1="200.8" y1="300.3" x2="200.8" y2="315.8"/><line x1="194.0" y1="300.3" x2="207.6" y2="300.3"/><line x1="194.0" y1="315.8" x2="207.6" y2="315.8"/><line x1="252.3" y1="288.4" x2="252.3" y2="313.1"/><line x1="245.5" y1="288.4" x2="259.1" y2="288.4"/><line x1="245.5" y1="313.1" x2="259.1" y2="313.1"/><line x1="303.7" y1="267.8" x2="303.7" y2="296.6"/><line x1="296.9" y1="267.8" x2="310.5" y2="267.8"/><line x1="296.9" y1="296.6" x2="310.5" y2="296.6"/><line x1="355.2" y1="241.5" x2="355.2" y2="273.1"/><line x1="348.4" y1="241.5" x2="362.0" y2="241.5"/><line x1="348.4" y1="273.1" x2="362.0" y2="273.1"/><line x1="406.7" y1="221.2" x2="406.7" y2="246.8"/><line x1="399.9" y1="221.2" x2="413.5" y2="221.2"/><line x1="399.9" y1="246.8" x2="413.5" y2="246.8"/><line x1="458.2" y1="205.2" x2="458.2" y2="227.1"/><line x1="451.4" y1="205.2" x2="465.0" y2="205.2"/><line x1="451.4" y1="227.1" x2="465.0" y2="227.1"/><line x1="509.7" y1="179.6" x2="509.7" y2="212.5"/><line x1="502.9" y1="179.6" x2="516.5" y2="179.6"/><line x1="502.9" y1="212.5" x2="516.5" y2="212.5"/><line x1="561.1" y1="164.9" x2="561.1" y2="198.8"/><line x1="554.3" y1="164.9" x2="567.9" y2="164.9"/><line x1="554.3" y1="198.8" x2="567.9" y2="198.8"/><line x1="612.6" y1="135.7" x2="612.6" y2="188.7"/><line x1="605.8" y1="135.7" x2="619.4" y2="135.7"/><line x1="605.8" y1="188.7" x2="619.4" y2="188.7"/><line x1="664.1" y1="122.9" x2="664.1" y2="185.1"/><line x1="657.3" y1="122.9" x2="670.9" y2="122.9"/><line x1="657.3" y1="185.1" x2="670.9" y2="185.1"/><line x1="715.6" y1="99.6" x2="715.6" y2="175.5"/><line x1="708.8" y1="99.6" x2="722.4" y2="99.6"/><line x1="708.8" y1="175.5" x2="722.4" y2="175.5"/><line x1="767.1" y1="74.4" x2="767.1" y2="175.9"/><line x1="760.3" y1="74.4" x2="773.9" y2="74.4"/><line x1="760.3" y1="175.9" x2="773.9" y2="175.9"/></g>
<polyline points="149.3,279.7 200.8,308.0 252.3,300.7 303.7,282.2 355.2,257.3 406.7,234.0 458.2,216.1 509.7,196.0 561.1,181.9 612.6,162.2 664.1,154.0 715.6,137.5 767.1,125.2" fill="none" stroke="#0000FF" stroke-width="5.0" stroke-linejoin="round"/>
<g fill="#0000FF"><circle cx="149.3" cy="279.7" r="6.7"/><circle cx="200.8" cy="308.0" r="6.7"/><circle cx="252.3" cy="300.7" r="6.7"/><circle cx="303.7" cy="282.2" r="6.7"/><circle cx="355.2" cy="257.3" r="6.7"/><circle cx="406.7" cy="234.0" r="6.7"/><circle cx="458.2" cy="216.1" r="6.7"/><circle cx="509.7" cy="196.0" r="6.7"/><circle cx="561.1" cy="181.9" r="6.7"/><circle cx="612.6" cy="162.2" r="6.7"/><circle cx="664.1" cy="154.0" r="6.7"/><circle cx="715.6" cy="137.5" r="6.7"/><circle cx="767.1" cy="125.2" r="6.7"/></g>
<text transform="translate(91,62.60) scale(1,1.04)" text-anchor="end">50</text>
<text transform="translate(91,176.90) scale(1,1.04)" text-anchor="end">25</text>
<text transform="translate(91,291.20) scale(1,1.04)" text-anchor="end">0</text>
<text transform="translate(91,405.50) scale(1,1.04)" text-anchor="end">-25</text>
<text transform="translate(91,519.80) scale(1,1.04)" text-anchor="end">-50</text>
<text transform="translate(149.30,561.3) scale(1,1.03)" text-anchor="middle">0</text>
<text transform="translate(252.26,561.3) scale(1,1.03)" text-anchor="middle">12</text>
<text transform="translate(355.22,561.3) scale(1,1.03)" text-anchor="middle">24</text>
<text transform="translate(458.18,561.3) scale(1,1.03)" text-anchor="middle">36</text>
<text transform="translate(561.14,561.3) scale(1,1.03)" text-anchor="middle">48</text>
<text transform="translate(664.10,561.3) scale(1,1.03)" text-anchor="middle">60</text>
<text transform="translate(767.06,561.3) scale(1,1.03)" text-anchor="middle">72</text>
<text x="458" y="615.6" text-anchor="middle">Time (h)</text>
<text transform="translate(25.5,278) rotate(-90)" text-anchor="middle">Confluence change (%)</text>
<line x1="905.3" y1="79.3" x2="954.8" y2="79.3" stroke="#0000FF" stroke-width="4.3"/>
<circle cx="929.9" cy="79.3" r="6.65" fill="#0000FF"/>
<text class="lg" transform="translate(983.2,91.30) scale(1,1.05)">0 mM</text>
<line x1="905.3" y1="135.7" x2="954.8" y2="135.7" stroke="#FF0000" stroke-width="4.3"/>
<circle cx="929.9" cy="135.7" r="6.65" fill="#FF0000"/>
<text class="lg" transform="translate(983.2,147.66) scale(1,1.05)">2.5 mM BCA</text>
<line x1="905.3" y1="192.0" x2="954.8" y2="192.0" stroke="#00BF00" stroke-width="4.3"/>
<circle cx="929.9" cy="192.0" r="6.65" fill="#00BF00"/>
<text class="lg" transform="translate(983.2,204.02) scale(1,1.05)">5 mM BCA</text>
<line x1="905.3" y1="248.4" x2="954.8" y2="248.4" stroke="#AC00E0" stroke-width="4.3"/>
<circle cx="929.9" cy="248.4" r="6.65" fill="#AC00E0"/>
<text class="lg" transform="translate(983.2,260.38) scale(1,1.05)">10 mM BCA</text>
<line x1="905.3" y1="304.7" x2="954.8" y2="304.7" stroke="#FF8000" stroke-width="4.3"/>
<circle cx="929.9" cy="304.7" r="6.65" fill="#FF8000"/>
<text class="lg" transform="translate(983.2,316.74) scale(1,1.05)">10 mM GBCA</text>
<line x1="905.3" y1="361.1" x2="954.8" y2="361.1" stroke="#000000" stroke-width="4.3"/>
<circle cx="929.9" cy="361.1" r="6.65" fill="#000000"/>
<text class="lg" transform="translate(983.2,373.10) scale(1,1.05)">20 mM GBCA</text>
<line x1="905.3" y1="417.5" x2="954.8" y2="417.5" stroke="#98651F" stroke-width="4.3"/>
<circle cx="929.9" cy="417.5" r="6.65" fill="#98651F"/>
<text class="lg" transform="translate(983.2,429.46) scale(1,1.05)">40 mM GBCA</text>
<line x1="905.3" y1="473.8" x2="954.8" y2="473.8" stroke="#000088" stroke-width="4.3"/>
<circle cx="929.9" cy="473.8" r="6.65" fill="#000088"/>
<text class="lg" transform="translate(983.2,485.82) scale(1,1.05)">2.5 mM BCA / 10 mM GBCA</text>
<line x1="905.3" y1="530.2" x2="954.8" y2="530.2" stroke="#650052" stroke-width="4.3"/>
<circle cx="929.9" cy="530.2" r="6.65" fill="#650052"/>
<text class="lg" transform="translate(983.2,542.18) scale(1,1.05)">5 mM BCA / 20 mM GBCA</text>
<line x1="905.3" y1="586.5" x2="954.8" y2="586.5" stroke="#A00000" stroke-width="4.3"/>
<circle cx="929.9" cy="586.5" r="6.65" fill="#A00000"/>
<text class="lg" transform="translate(983.2,598.54) scale(1,1.05)">10 mM BCA / 40 mM GBCA</text>
</svg>
</body></html>
